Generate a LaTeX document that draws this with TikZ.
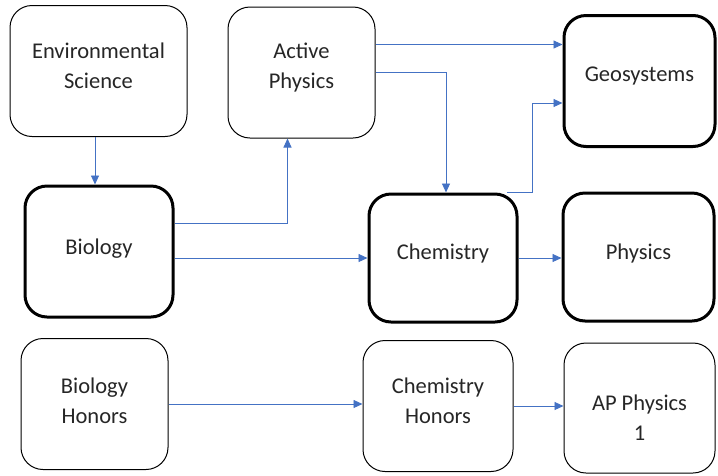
\documentclass[tikz,border=0pt]{standalone}
\usepackage{fontspec}
\setmainfont{Carlito}
\usetikzlibrary{arrows.meta,calc}
\definecolor{linkblue}{RGB}{68,114,196}
\tikzset{
	course/.style={
		rectangle,
		rounded corners=22pt,
		draw=black,
		line width=1pt,
		align=center,
		font=\fontsize{22.5}{30}\selectfont,
		text=black!85,
		minimum width=150pt,
		minimum height=131pt,
	},
	core/.style={
		course,
		line width=3pt,
	},
	link/.style={
		draw=linkblue,
		line width=0.9pt,
		-{Triangle[length=9pt,width=8pt]},
	},
}

\begin{document}
\begin{tikzpicture}[x=1pt, y=-1pt]
				\useasboundingbox (0,0) rectangle (718,475);
				% nodes
				\node [course, minimum width=177pt, text depth=10pt] (envsci) at (98.5,71) {Environmental\\Science};
				\node [course, minimum width=147pt, text depth=13pt] (active) at (301.5,72.5) {Active\\Physics};
				\node [core, minimum width=151pt, text depth=13pt] (geo) at (639.5,81) {Geosystems};
				\node [core, minimum width=148pt, text depth=9pt] (bio) at (99,251.5) {Biology};
				\node [core, minimum width=148pt, minimum height=128pt, text depth=13pt] (chem) at (443,258) {Chemistry};
				\node [core, minimum width=151pt, minimum height=128pt, text depth=11pt] (phys) at (638.5,257) {Physics};
				\node [course, minimum width=147pt, text depth=6pt] (biohon) at (94.5,404) {Biology\\Honors};
				\node [course, text depth=10pt] (chemhon) at (438,406) {Chemistry\\Honors};
				\node [course, minimum width=151pt, minimum height=130pt, text height=64pt, text depth=0pt] (apphys) at (639.5,408) {AP Physics\\1};
				
				% arcs
				\draw[link] (envsci.south -| 95,0) -- (bio.north -| 95,0);
				\draw[link] ([yshift=28pt]bio.east) -| ([xshift=-14pt]active.south);
				\draw[link] (bio.east |- chem.west) -- (chem.west);
				\draw[link] ([yshift=28pt]active.east) -- ([yshift=28pt]active.east -| geo.west);
				\draw[link] (active.east) -| ([xshift=3pt]chem.north);
				\draw[link] ([xshift=64pt]chem.north) -- ++(25,0) |- ([yshift=-22pt]geo.west);
				\draw[link] (chem.east) -- (chem.east -| phys.west);
				\draw[link] (biohon.east) -- (biohon.east -| chemhon.west);
				\draw[link] (chemhon.east) -- (chemhon.east -| apphys.west);
			\end{tikzpicture}
\end{document}
